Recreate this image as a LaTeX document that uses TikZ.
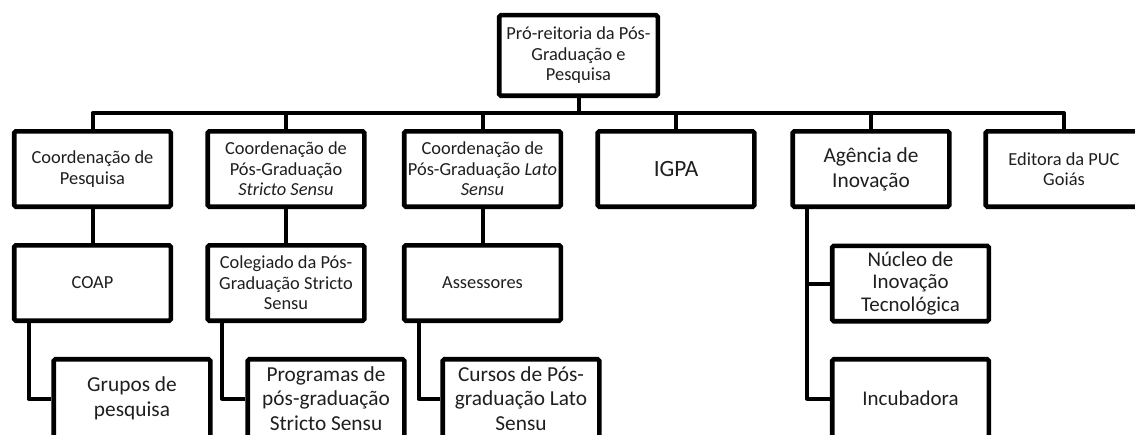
\documentclass[tikz,border=0pt]{standalone}
\usepackage{fontspec}
\setmainfont{Carlito}
\begin{document}
\begin{tikzpicture}[x=0.75pt,y=-0.75pt,
  box/.style={draw=black, line width=3.4pt, rounded corners=1.2pt, fill=white,
    minimum width=117.4pt, minimum height=56.6pt, align=center, inner sep=0pt,
    text=black!88, font=\fontsize{13.8}{15.4}\selectfont},
  bigtext/.style={font=\fontsize{16}{18.6}\selectfont},
  midtext/.style={font=\fontsize{15.7}{17}\selectfont},
  lowbox/.style={minimum height=58.9pt},
  conn/.style={draw=black, line width=3pt, line join=round}]
\useasboundingbox (0,0) rectangle (1135,435);
\clip (0,0) rectangle (1135,435);
\coordinate (bus) at (578.5,113);

% level 0
\node[box, minimum width=118.9pt, minimum height=60.4pt] (pro) at (578.5,55.5)
  {Pró-reitoria da Pós-\\Graduação e\\Pesquisa};

% level 1
\node[box] (cpesq) at (92.5,169) {Coordenação de\\Pesquisa};
\node[box] (cstricto) at (286,169) {Coordenação de\\Pós-Graduação\\\textit{Stricto Sensu}};
\node[box] (clato) at (482.5,169) {Coordenação de\\Pós-Graduação \textit{Lato}\\\textit{Sensu}};
\node[box, font=\fontsize{17.5}{20}\selectfont] (igpa) at (676,169) {IGPA};
\node[box, bigtext] (agencia) at (871,169) {Agência de\\Inovação};
\node[box] (editora) at (1064,169) {Editora da PUC\\Goiás};

% level 2
\node[box] (coap) at (92.5,283) {COAP};
\node[box] (colegiado) at (286,283) {Colegiado da Pós-\\Graduação Stricto\\Sensu};
\node[box] (assessores) at (482.5,283) {Assessores};
\node[box, midtext] (nucleo) at (910.5,283.5) {Núcleo de\\Inovação\\Tecnológica};

% level 3
\node[box, bigtext, lowbox] (grupos) at (132,398.5) {Grupos de\\pesquisa};
\node[box, bigtext, lowbox] (programas) at (326,398.5) {Programas de\\pós-graduação\\Stricto Sensu};
\node[box, bigtext, lowbox] (cursos) at (521,398.5) {Cursos de Pós-\\graduação Lato\\Sensu};
\node[box, midtext, lowbox] (incubadora) at (910.5,398.5) {Incubadora};

% connectors
\draw[conn] (pro.south) -- (bus);
\draw[conn] (cpesq.north) -- (cpesq.north |- bus) -- (editora.north |- bus) -- (editora.north);
\draw[conn] (cstricto.north) -- (cstricto.north |- bus);
\draw[conn] (clato.north) -- (clato.north |- bus);
\draw[conn] (igpa.north) -- (igpa.north |- bus);
\draw[conn] (agencia.north) -- (agencia.north |- bus);

\draw[conn] (cpesq.south) -- (coap.north);
\draw[conn] (cstricto.south) -- (colegiado.north);
\draw[conn] (clato.south) -- (assessores.north);

\draw[conn] ([xshift=12.4pt]coap.south west) |- (grupos.west);
\draw[conn] ([xshift=12.4pt]colegiado.south west) |- (programas.west);
\draw[conn] ([xshift=12.4pt]assessores.south west) |- (cursos.west);
\draw[conn] ([xshift=12.4pt]agencia.south west) |- (nucleo.west);
\draw[conn] ([xshift=12.4pt]agencia.south west) |- (incubadora.west);
\end{tikzpicture}
\end{document}
